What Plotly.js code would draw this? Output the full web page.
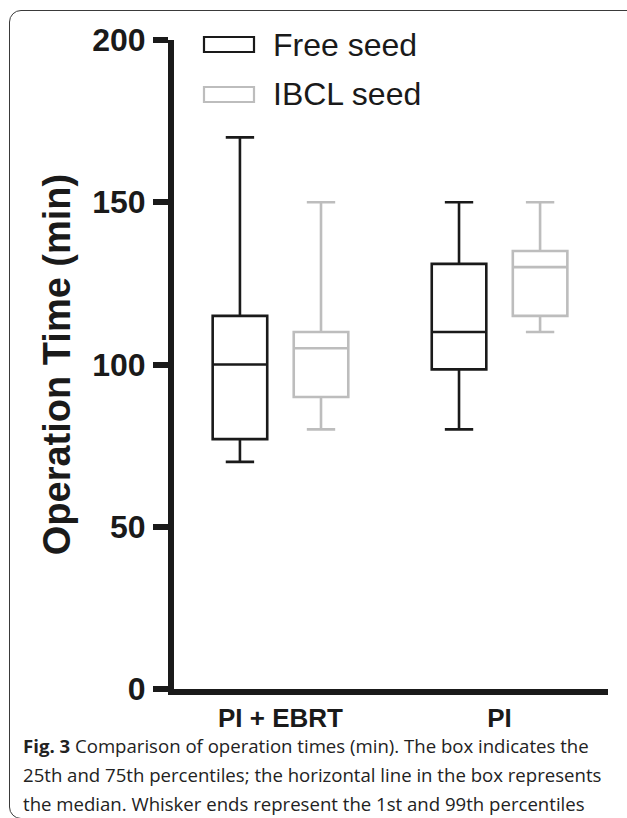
<!DOCTYPE html>
<html>
<head>
<meta charset="utf-8">
<script src="https://cdn.plot.ly/plotly-3.0.1.min.js"></script>
<style>
  html, body { margin: 0; padding: 0; background: #ffffff; overflow: hidden; }
  #wrap { position: relative; width: 627px; height: 818px; overflow: hidden; background: #fff; }
  #frame { position: absolute; left: 9px; top: 10px; width: 680px; height: 809px;
           border: 1.3px solid #3a3a3a; border-radius: 12px; box-sizing: border-box; }
  #chart { position: absolute; left: 0; top: 0; width: 627px; height: 818px; }
</style>
</head>
<body>
<div id="wrap">
  <div id="frame"></div>
  <div id="chart"></div>
</div>
<script>
// ---- data ----
var categories = ['PI + EBRT', 'PI'];
var freeLow  = [70, 80];
var freeQ1   = [77, 98.5];
var freeMed  = [100, 110];
var freeQ3   = [115, 131];
var freeHigh = [170, 150];

var ibclLow  = [80, 110];
var ibclQ1   = [90, 115];
var ibclMed  = [105, 130];
var ibclQ3   = [110, 135];
var ibclHigh = [150, 150];

var yTicks = [0, 50, 100, 150, 200];
var seriesNames = ['Free seed', 'IBCL seed'];
var captionLines = [
  '<b>Fig. 3</b> Comparison of operation times (min). The box indicates the',
  '25th and 75th percentiles; the horizontal line in the box represents',
  'the median. Whisker ends represent the 1st and 99th percentiles'
];

// ---- layout geometry ----
var W = 627, H = 818;
var M = {l: 174, r: 19, t: 40, b: 129};
var PW = W - M.l - M.r, PH = H - M.t - M.b;
function px(x) { return (x - M.l) / PW; }
function py(y) { return (H - M.b - y) / PH; }

var black = '#1a1a1a', grey = '#bdbdbd';

function boxTrace(name, q1, med, q3, lo, hi, color) {
  return {
    type: 'box', name: name, x: categories,
    q1: q1, median: med, q3: q3, lowerfence: lo, upperfence: hi,
    boxpoints: false, whiskerwidth: 0.52,
    line: {color: color, width: 2.6},
    fillcolor: 'rgba(255,255,255,0)',
    hoverinfo: 'none', showlegend: false
  };
}

var traces = [
  boxTrace(seriesNames[0], freeQ1, freeMed, freeQ3, freeLow, freeHigh, black),
  boxTrace(seriesNames[1], ibclQ1, ibclMed, ibclQ3, ibclLow, ibclHigh, grey)
];

var annotations = [];
var shapes = [];
// legend (manual, to match the wide outlined swatches)
var legendRows = [44.5, 94.5];
var legendColors = [black, grey];
for (var i = 0; i < 2; i++) {
  shapes.push({type: 'rect', xref: 'paper', yref: 'paper',
    x0: px(204), x1: px(254), y0: py(legendRows[i] - 7.5), y1: py(legendRows[i] + 7.5),
    line: {color: legendColors[i], width: 2.2}, fillcolor: 'rgba(0,0,0,0)'});
  annotations.push({xref: 'paper', yref: 'paper', x: px(271), y: py(legendRows[i]),
    xanchor: 'left', yanchor: 'middle', showarrow: false, text: seriesNames[i],
    font: {family: 'Liberation Sans, Arial, sans-serif', size: 32, color: black}});
}
// caption
var capY = [745, 774, 803];
for (var j = 0; j < captionLines.length; j++) {
  annotations.push({xref: 'paper', yref: 'paper', x: px(21), y: py(capY[j]),
    xanchor: 'left', yanchor: 'middle', showarrow: false, align: 'left',
    text: captionLines[j],
    font: {family: 'Open Sans, Noto Sans, sans-serif', size: 18.6, color: '#222'}});
}

var layout = {
  width: W, height: H, margin: M,
  paper_bgcolor: 'rgba(0,0,0,0)', plot_bgcolor: 'rgba(0,0,0,0)',
  boxmode: 'group', boxgap: 0.26, boxgroupgap: 0.327,
  showlegend: false,
  xaxis: {
    type: 'category', range: [-0.486, 1.495], fixedrange: true,
    showline: true, linecolor: black, linewidth: 6, showgrid: false, zeroline: false,
    ticks: '', ticklabelstandoff: 1,
    tickfont: {family: 'Liberation Sans, Arial, sans-serif', size: 26, color: black, weight: 'bold'}
  },
  yaxis: {
    range: [0, 200], tickvals: yTicks, ticktext: yTicks.map(String), fixedrange: true,
    showline: true, linecolor: black, linewidth: 6, showgrid: false, zeroline: false,
    ticks: 'outside', ticklen: 15, tickwidth: 6, tickcolor: black, ticklabelstandoff: 1,
    tickfont: {family: 'Liberation Sans, Arial, sans-serif', size: 32, color: black, weight: 'bold'},
    title: {text: 'Operation Time (min)', standoff: 12,
      font: {family: 'Liberation Sans, Arial, sans-serif', size: 38, color: black, weight: 'bold'}}
  },
  annotations: annotations,
  shapes: shapes
};

Plotly.newPlot('chart', traces, layout, {staticPlot: true, displayModeBar: false});
</script>
</body>
</html>
